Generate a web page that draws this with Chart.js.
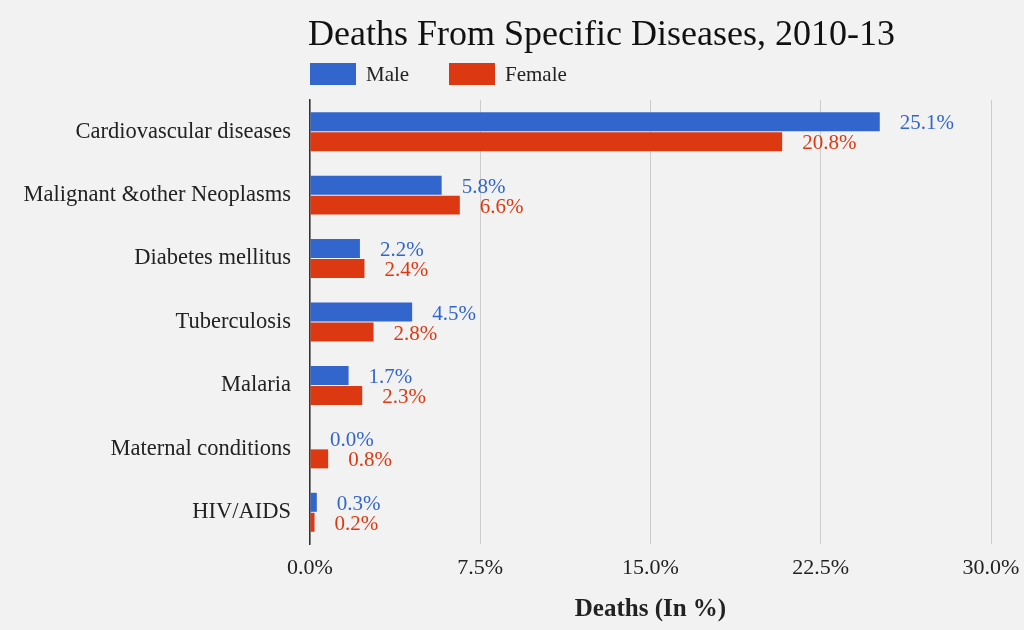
<!DOCTYPE html>
<html>
<head>
<meta charset="utf-8">
<script src="https://cdn.jsdelivr.net/npm/chart.js@4"></script>
<style>
  html, body { margin: 0; padding: 0; background: #f2f2f2; }
  #wrap { width: 1024px; height: 630px; }
</style>
</head>
<body>
<div id="wrap"><canvas id="c" width="1024" height="630"></canvas></div>
<script>
const chartTitle = "Deaths From Specific Diseases, 2010-13";
const axisTitle = "Deaths (In %)";
const categories = ["Cardiovascular diseases", "Malignant &other Neoplasms", "Diabetes mellitus", "Tuberculosis", "Malaria", "Maternal conditions", "HIV/AIDS"];
const seriesNames = ["Male", "Female"];
const maleValues = [25.1, 5.8, 2.2, 4.5, 1.7, 0.0, 0.3];
const femaleValues = [20.8, 6.6, 2.4, 2.8, 2.3, 0.8, 0.2];
const xTicks = [0, 7.5, 15, 22.5, 30];
const colors = ["#3366cc", "#dc3912"];
const FONT = "'Liberation Serif', 'DejaVu Serif', serif";

const headerPlugin = {
  id: 'header',
  afterDraw(chart) {
    const ctx = chart.ctx;
    const left = chart.chartArea.left;
    ctx.save();
    ctx.fillStyle = '#111';
    ctx.font = "36px " + FONT;
    ctx.textBaseline = 'alphabetic';
    ctx.textAlign = 'left';
    ctx.fillText(chartTitle, left - 2, 45);
    // legend
    let x = left;
    ctx.font = "21px " + FONT;
    chart.data.datasets.forEach((ds, i) => {
      ctx.fillStyle = ds.backgroundColor;
      ctx.fillRect(x, 63, 46, 22);
      ctx.fillStyle = '#222';
      ctx.textBaseline = 'middle';
      ctx.fillText(ds.label, x + 56, 75);
      x += 139;
    });
    ctx.restore();
  }
};

const valueLabelPlugin = {
  id: 'valueLabels',
  afterDatasetsDraw(chart) {
    const ctx = chart.ctx;
    ctx.save();
    ctx.font = "21px " + FONT;
    ctx.textAlign = 'left';
    ctx.textBaseline = 'middle';
    chart.data.datasets.forEach((ds, i) => {
      const meta = chart.getDatasetMeta(i);
      meta.data.forEach((bar, j) => {
        ctx.fillStyle = ds.backgroundColor;
        ctx.fillText(ds.data[j].toFixed(1) + '%', bar.x + 20, bar.y + 2);
      });
    });
    ctx.restore();
  }
};

new Chart(document.getElementById('c'), {
  type: 'bar',
  data: {
    labels: categories,
    datasets: [
      { label: seriesNames[0], data: maleValues, backgroundColor: colors[0], categoryPercentage: 0.63, barPercentage: 0.95 },
      { label: seriesNames[1], data: femaleValues, backgroundColor: colors[1], categoryPercentage: 0.63, barPercentage: 0.95 }
    ]
  },
  options: {
    indexAxis: 'y',
    responsive: false,
    animation: false,
    devicePixelRatio: 1,
    layout: { padding: { top: 100, right: 33, bottom: 0, left: 0 } },
    plugins: {
      legend: { display: false },
      title: { display: false },
      tooltip: { enabled: false }
    },
    scales: {
      x: {
        min: 0, max: 30,
        afterBuildTicks(axis) { axis.ticks = xTicks.map(v => ({ value: v })); },
        afterFit(axis) { axis.height = 86; axis.paddingRight = 0; axis.paddingLeft = 0; },
        grid: { color: '#cccccc', lineWidth: 1, drawTicks: false },
        border: { display: false },
        ticks: {
          padding: 11,
          color: '#222',
          font: { family: FONT, size: 22 },
          callback: (v) => Number(v).toFixed(1) + '%'
        },
        title: {
          display: true,
          text: axisTitle,
          color: '#222',
          font: { family: FONT, size: 25, weight: 'bold' },
          padding: { top: 0, bottom: 5 }
        }
      },
      y: {
        afterFit(axis) { axis.width = 310; },
        grid: { display: false, drawTicks: false },
        border: { display: true, color: '#333', width: 1.5 },
        ticks: {
          padding: 19,
          color: '#222',
          font: { family: FONT, size: 22.5 }
        }
      }
    }
  },
  plugins: [headerPlugin, valueLabelPlugin]
});
</script>
</body>
</html>
